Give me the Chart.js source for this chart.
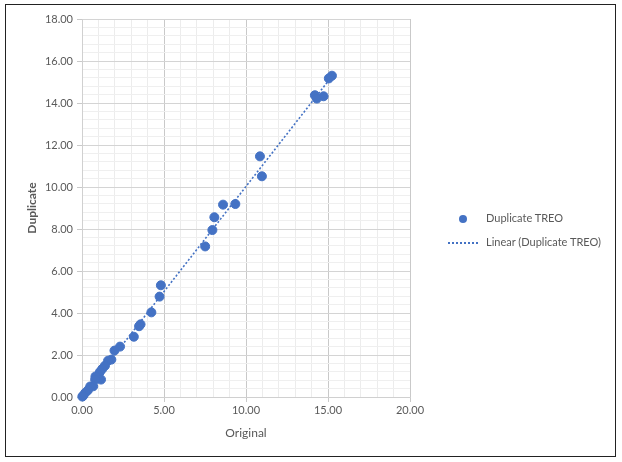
<!DOCTYPE html>
<html>
<head>
<meta charset="utf-8">
<script src="https://cdn.jsdelivr.net/npm/chart.js@4.4.0/dist/chart.umd.min.js"></script>
<style>
  body { margin: 0; background: #fff; }
  #frame { position: absolute; left: 5px; top: 4px; width: 611px; height: 453px; border: 1px solid #222; box-sizing: border-box; }
  #wrap { position: absolute; left: 0; top: 0; width: 622px; height: 462px; }
  .leg { position: absolute; font-family: Lato, "Open Sans", sans-serif; font-size: 11px; color: #595959; white-space: nowrap; }
  .dot { position: absolute; width: 8px; height: 8px; border-radius: 50%; background: #4472c4; }
  .dash { position: absolute; width: 30px; height: 0; border-top: 2px dotted #4472c4; }
</style>
</head>
<body>
<div id="frame"></div>
<div id="wrap"><canvas id="chart"></canvas></div>
<div class="dot" style="left:459px; top:215px;"></div>
<div class="leg" style="left:486px; top:211px;">Duplicate TREO</div>
<div class="dash" style="left:448px; top:242px;"></div>
<div class="leg" style="left:486px; top:235px;">Linear (Duplicate TREO)</div>
<script>
const originalVals = [15.24, 15.05, 14.20, 14.32, 14.73, 10.85, 10.97, 8.60, 9.35, 8.07,
    7.95, 7.51, 4.81, 4.73, 4.23, 3.57, 3.48, 3.16, 2.32, 1.98,
    1.79, 1.59, 1.40, 1.23, 1.09, 1.16, 0.82, 0.80, 0.68, 0.50,
    0.36, 0.19, 0.07, 0.02];
const duplicateVals = [15.30, 15.17, 14.37, 14.21, 14.32, 11.46, 10.51, 9.16, 9.19, 8.56,
    7.95, 7.17, 5.32, 4.78, 4.03, 3.46, 3.37, 2.87, 2.40, 2.21,
    1.78, 1.73, 1.49, 1.33, 1.19, 0.83, 0.98, 0.83, 0.51, 0.50,
    0.32, 0.19, 0.06, 0.02];
const xTickValues = [0, 5, 10, 15, 20];
const yTickValues = [0, 2, 4, 6, 8, 10, 12, 14, 16, 18];

const points = originalVals.map((x, i) => ({ x: x, y: duplicateVals[i] }));

// linear trendline (least squares) over the data range
const n = points.length;
let sx = 0, sy = 0, sxy = 0, sxx = 0;
points.forEach(p => { sx += p.x; sy += p.y; sxy += p.x * p.y; sxx += p.x * p.x; });
const slope = (n * sxy - sx * sy) / (n * sxx - sx * sx);
const intercept = (sy - slope * sx) / n;
const xMin = Math.min(...originalVals), xMax = Math.max(...originalVals);
const trend = [
    { x: xMin, y: slope * xMin + intercept },
    { x: xMax, y: slope * xMax + intercept }
];

const isMajor = (v, step) => Math.abs(v / step - Math.round(v / step)) < 1e-6;
const minorTicks = (max, step) => {
    const out = [];
    for (let i = 0; i * step <= max + 1e-9; i++) out.push({ value: +(i * step).toFixed(2) });
    return out;
};
const fontTick = { family: 'Lato, "Open Sans", sans-serif', size: 11 };

new Chart(document.getElementById('chart'), {
    type: 'scatter',
    data: {
        datasets: [
            {
                label: 'Duplicate TREO',
                data: points,
                backgroundColor: '#4472c4',
                borderColor: '#4472c4',
                pointRadius: 4.5,
                pointHoverRadius: 4.5,
                clip: false,
                order: 1
            },
            {
                label: 'Linear (Duplicate TREO)',
                type: 'line',
                data: trend,
                borderColor: '#4472c4',
                borderWidth: 1.6,
                borderDash: [2, 2],
                pointRadius: 0,
                fill: false,
                order: 2
            }
        ]
    },
    options: {
        responsive: true,
        maintainAspectRatio: false,
        animation: false,
        layout: { padding: { left: 0, right: 212, top: 19, bottom: 20 } },
        plugins: { legend: { display: false }, tooltip: { enabled: false } },
        scales: {
            x: {
                type: 'linear',
                min: 0,
                max: 20,
                afterBuildTicks: s => { s.ticks = minorTicks(20, 1); },
                afterFit: s => { s.height = 45; },
                border: { color: '#d0d0d0' },
                grid: {
                    color: c => isMajor(c.tick.value, 5) ? '#c9c9c9' : '#ececec',
                    tickColor: c => isMajor(c.tick.value, 5) ? '#c9c9c9' : 'rgba(0,0,0,0)',
                    tickLength: 5
                },
                ticks: {
                    autoSkip: false,
                    maxRotation: 0,
                    padding: 2,
                    color: '#595959',
                    font: fontTick,
                    callback: v => xTickValues.some(t => Math.abs(t - v) < 1e-6) ? v.toFixed(2) : ''
                },
                title: {
                    display: true,
                    text: 'Original',
                    color: '#595959',
                    font: { family: 'Lato, "Open Sans", sans-serif', size: 12 },
                    padding: { top: 0, bottom: 2 }
                }
            },
            y: {
                type: 'linear',
                min: 0,
                max: 18,
                afterBuildTicks: s => { s.ticks = minorTicks(18, 0.4); },
                afterFit: s => { s.width = 82; },
                border: { color: '#d0d0d0' },
                grid: {
                    color: c => isMajor(c.tick.value, 2) ? '#d4d4d4' : '#efefef',
                    tickColor: c => isMajor(c.tick.value, 2) ? '#c9c9c9' : 'rgba(0,0,0,0)',
                    tickLength: 5
                },
                ticks: {
                    autoSkip: false,
                    padding: 4,
                    color: '#595959',
                    font: fontTick,
                    callback: v => yTickValues.some(t => Math.abs(t - v) < 1e-6) ? v.toFixed(2) : ''
                },
                title: {
                    display: true,
                    text: 'Duplicate',
                    color: '#595959',
                    font: { family: 'Lato, "Open Sans", sans-serif', size: 12, weight: 'bold' },
                    padding: { top: 25, bottom: 0 }
                }
            }
        }
    }
});
</script>
</body>
</html>
